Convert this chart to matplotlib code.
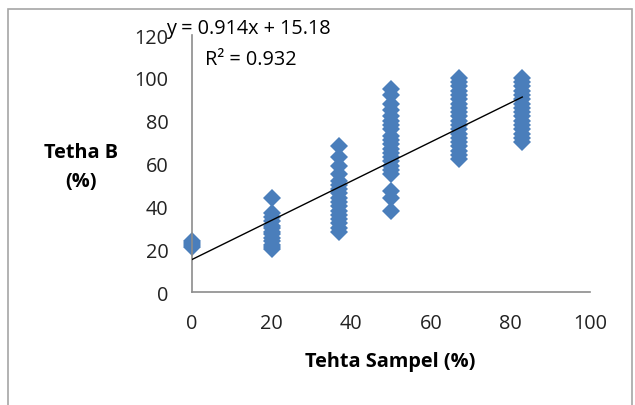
import matplotlib
matplotlib.use("Agg")
import matplotlib.pyplot as plt
from matplotlib.patches import Rectangle

# kadar air sampel (x) dan hasil pengukuran Tetha B (y) per kelompok
x_levels = [0, 20, 37, 50, 67, 83]
y_groups = [
    [21, 22, 23, 24],
    [20, 21, 22, 24, 25, 27, 28, 30, 31, 33, 35, 37, 44],
    [28, 30, 32, 34, 36, 38, 40, 42, 44, 46, 48, 50, 52, 55, 59, 63, 68],
    [38, 44, 47, 55, 57, 59, 61, 63, 65, 67, 69, 71, 73, 76, 78, 80, 82,
     85, 88, 92, 95],
    [62, 64, 66, 68, 70, 72, 74, 76, 78, 80, 82, 84, 86, 88, 90, 92, 94,
     96, 98, 100],
    [70, 72, 74, 76, 78, 80, 82, 84, 86, 88, 90, 92, 94, 96, 98, 100],
]
slope = 0.914
intercept = 15.18
r_squared = 0.932
x_ticks = [0, 20, 40, 60, 80, 100]
y_ticks = [0, 20, 40, 60, 80, 100, 120]

font = "Open Sans"
fsize = 14.3
plt.rcParams["font.family"] = [font, "DejaVu Sans"]

fig = plt.figure(figsize=(6.35, 4.06), dpi=100)
ax = fig.add_axes([0.3024, 0.2783, 0.6266, 0.633])

# bingkai luar chart
fig.patches.append(Rectangle((8 / 635, -0.05), 624 / 635, 1.05 - 10 / 406,
                             transform=fig.transFigure, fill=False,
                             edgecolor="#a6a6a6", linewidth=1.2))

for xv, ys in zip(x_levels, y_groups):
    ax.plot([xv] * len(ys), ys, linestyle="none", marker="D", markersize=9,
            color="#4a7ebb", markeredgewidth=0, clip_on=False, zorder=2)

x0, x1 = min(x_levels), max(x_levels)
ax.plot([x0, x1], [slope * x0 + intercept, slope * x1 + intercept],
        color="black", linewidth=1.0, zorder=3)

ax.set_xlim(0, 100)
ax.set_ylim(0, 120)
ax.set_xticks(x_ticks)
ax.set_yticks(y_ticks)
ax.tick_params(length=0, labelsize=fsize, colors="#222222")
ax.tick_params(axis="x", pad=15)
ax.tick_params(axis="y", pad=17)
for s in ["top", "right"]:
    ax.spines[s].set_visible(False)
for s in ["left", "bottom"]:
    ax.spines[s].set_color("#8c8c8c")
    ax.spines[s].set_linewidth(1.2)

fig.text(81 / 635, 1 - 168 / 406, "Tetha B\n(%)", ha="center", va="center",
         fontsize=fsize, fontweight="bold", linespacing=1.6)
fig.text(390 / 635, 1 - 362 / 406, "Tehta Sampel (%)", ha="center",
         va="center", fontsize=fsize, fontweight="bold")

fig.text(166 / 635, 1 - 29 / 406, f"y = {slope}x + {intercept}",
         ha="left", va="center", fontsize=fsize)
fig.text(205 / 635, 1 - 60 / 406, f"R² = {r_squared}",
         ha="left", va="center", fontsize=fsize)

fig.savefig("out.png", dpi=100)
